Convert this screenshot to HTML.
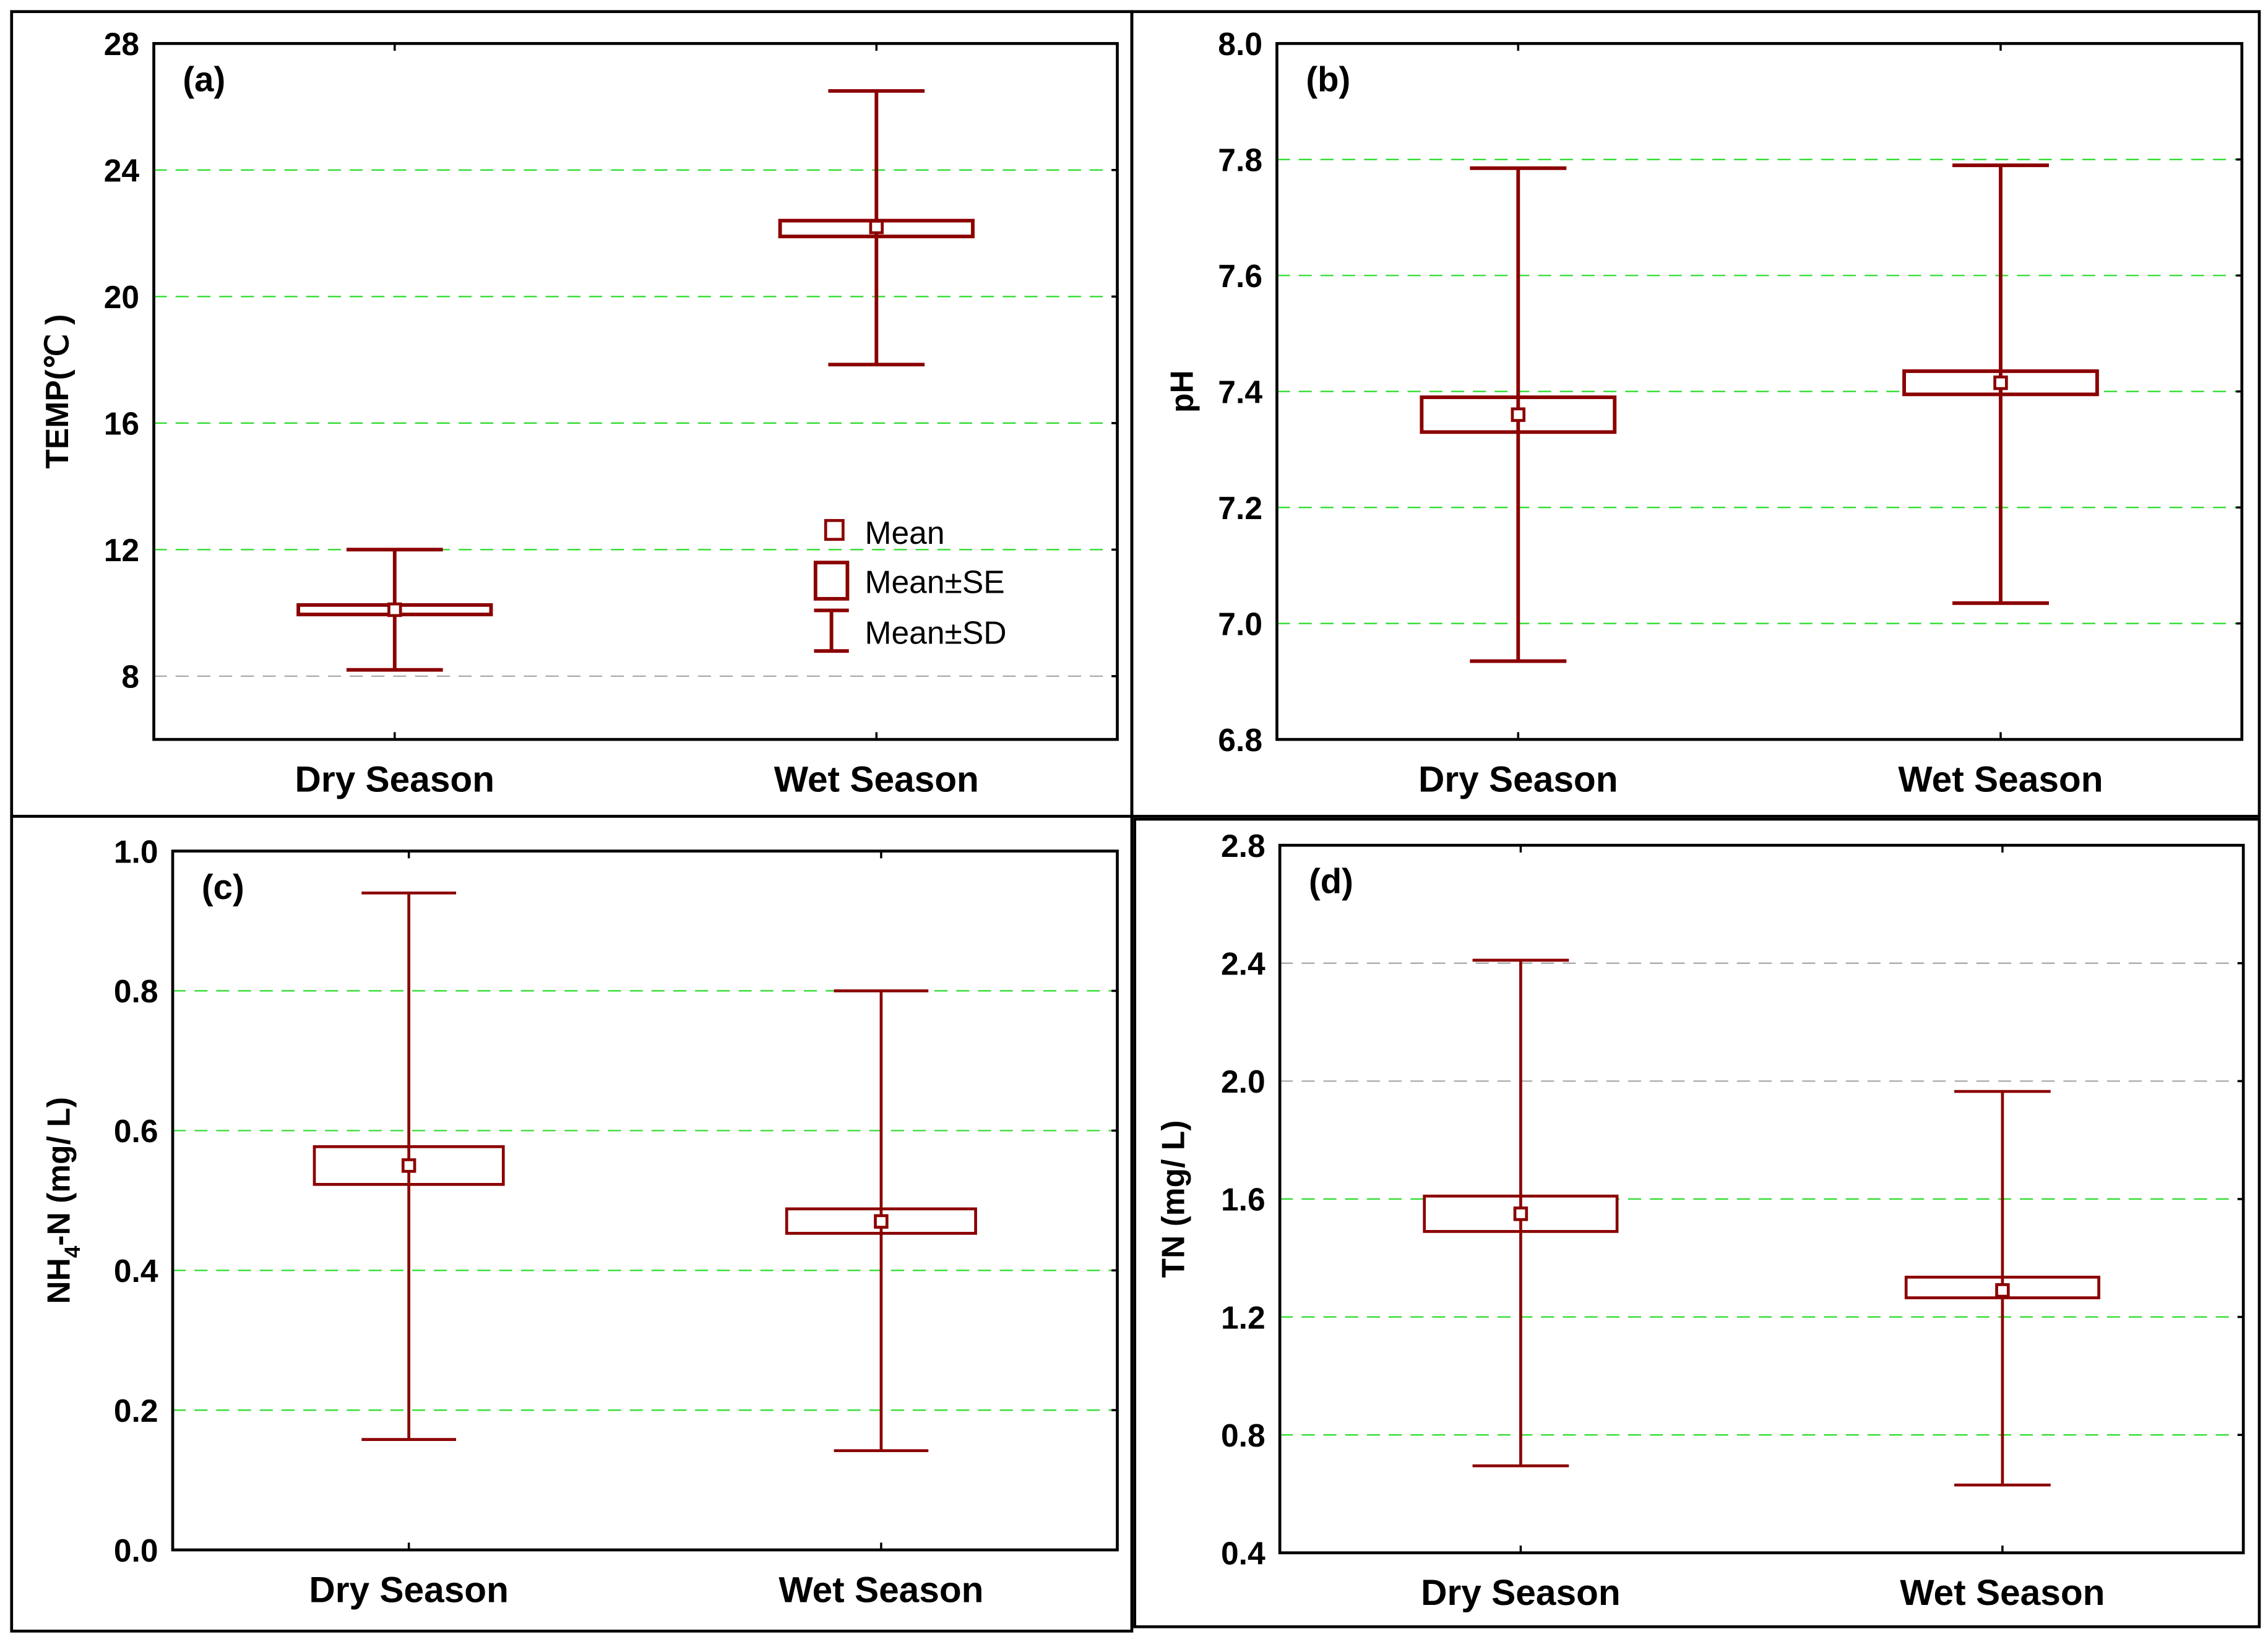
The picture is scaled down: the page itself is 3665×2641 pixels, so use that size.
<!DOCTYPE html>
<html><head><meta charset="utf-8"><style>
html,body{margin:0;padding:0;background:#fff}
svg{display:block}
text{font-family:"Liberation Sans",sans-serif}
</style></head><body>
<svg id="fig" width="3665" height="2641" viewBox="0 0 1563 1127" preserveAspectRatio="none" xmlns="http://www.w3.org/2000/svg"></svg>
<script>
const categories = ["Dry Season", "Wet Season"];
// panel a TEMP
const aMean = [10.1, 22.2], aSeLo = [9.95, 21.9], aSeHi = [10.25, 22.4], aSdLo = [8.2, 17.85], aSdHi = [12.0, 26.5];
const aTicks = [8, 12, 16, 20, 24, 28];
// panel b pH
const bMean = [7.36, 7.415], bSeLo = [7.33, 7.395], bSeHi = [7.39, 7.435], bSdLo = [6.935, 7.035], bSdHi = [7.785, 7.79];
const bTicks = ["6.8", "7.0", "7.2", "7.4", "7.6", "7.8", "8.0"];
// panel c NH4-N
const cMean = [0.55, 0.47], cSeLo = [0.523, 0.453], cSeHi = [0.577, 0.488], cSdLo = [0.158, 0.142], cSdHi = [0.94, 0.80];
const cTicks = ["0.0", "0.2", "0.4", "0.6", "0.8", "1.0"];
// panel d TN
const dMean = [1.55, 1.29], dSeLo = [1.49, 1.265], dSeHi = [1.61, 1.335], dSdLo = [0.695, 0.63], dSdHi = [2.41, 1.965];
const dTicks = ["0.4", "0.8", "1.2", "1.6", "2.0", "2.4", "2.8"];

const NS = "http://www.w3.org/2000/svg";
const svg = document.getElementById("fig");
const RED = "#8b0000";
function mk(tag, attrs, parent) {
  const e = document.createElementNS(NS, tag);
  for (const k in attrs) e.setAttribute(k, attrs[k]);
  (parent || svg).appendChild(e);
  return e;
}
function panel(cfg) {
  const g = mk("g", {});
  
  
  const o = cfg.outer;
  const ob = mk("rect", {x:o[0], y:o[1], width:o[2]-o[0], height:o[3]-o[1], fill:"none", stroke:"#000", "stroke-width":2}, g);
  
  
  const [x0, y0, x1, y1] = cfg.plot;
  const ymin = cfg.ymin, ymax = cfg.ymax;
  const Y = v => y1 - (v - ymin) / (ymax - ymin) * (y1 - y0);
  const W = x1 - x0;
  const X = i => x0 + W * (0.25 + 0.5 * i);
  cfg.ticks.forEach((t, k) => {
    const v = parseFloat(t), y = Y(v);
    if (v > ymin + 1e-9 && v < ymax - 1e-9) {
      const gl = mk("line", {x1:x0, x2:x1, y1:y, y2:y, stroke: cfg.gridColors[k] || "#33dd33", "stroke-width":1, "stroke-dasharray":"9,6"}, g);
      
      
    }
    const tk = mk("line", {x1:x1-4, x2:x1, y1:y, y2:y, stroke:"#000", "stroke-width":1.5}, g);
    
    
    const tl = mk("text", {x:x0-10, y:y+8, "text-anchor":"end", "font-size":22, "font-weight":"bold"}, g);
    tl.textContent = t;
    
    
  });
  const pb = mk("rect", {x:x0, y:y0, width:W, height:y1-y0, fill:"none", stroke:"#000", "stroke-width":2}, g);
  
  
  categories.forEach((c, i) => {
    const x = X(i);
    mk("line", {x1:x, x2:x, y1:y0, y2:y0+5, stroke:"#000", "stroke-width":1.5}, g);
    mk("line", {x1:x, x2:x, y1:y1, y2:y1-5, stroke:"#000", "stroke-width":1.5}, g);
    const cl = mk("text", {x:x, y:y1+36, "text-anchor":"middle", "font-size":25, "font-weight":"bold"}, g);
    cl.textContent = c;
    
    
    const sw = cfg.sw;
    const wh = mk("line", {x1:x, x2:x, y1:Y(cfg.sdHi[i]), y2:Y(cfg.sdLo[i]), stroke:RED, "stroke-width":sw}, g);
    
    
    [cfg.sdHi[i], cfg.sdLo[i]].forEach(v => {
      const cap = mk("line", {x1:x-W*0.05, x2:x+W*0.05, y1:Y(v), y2:Y(v), stroke:RED, "stroke-width":sw}, g);
      
      
    });
    const bx = mk("rect", {x:x-W*0.1, y:Y(cfg.seHi[i]), width:W*0.2, height:Y(cfg.seLo[i])-Y(cfg.seHi[i]), fill:"#fff", stroke:RED, "stroke-width":sw}, g);
    
    
    mk("line", {x1:x, x2:x, y1:Y(cfg.seHi[i]), y2:Y(cfg.seLo[i]), stroke:RED, "stroke-width":sw}, g);
    const mm = mk("rect", {x:x-4, y:Y(cfg.mean[i])-4, width:8, height:8, fill:"#fff", stroke:RED, "stroke-width":2}, g);
    
    
  });
  const pl = mk("text", {x:x0+20, y:y0+33, "font-size":24, "font-weight":"bold"}, g);
  pl.textContent = cfg.label;
  
  
  const yt = mk("text", {x:0, y:0, "text-anchor":"middle", "font-size":22, "font-weight":"bold", transform:`translate(${cfg.titleX},${(y0+y1)/2}) rotate(-90)`}, g);
  
  
  if (cfg.titleHtml) cfg.titleHtml(yt); else yt.textContent = cfg.title;
  return {g, X, Y};
}
panel({name:"panel-a-temp", outer:[8,8,780,563], plot:[106,30,770,510], ymin:6, ymax:28,
  ticks:aTicks.map(String), gridColors:[ "#aaaaaa", "#33dd33", "#33dd33", "#33dd33", "#33dd33", "#33dd33" ],
  mean:aMean, seLo:aSeLo, seHi:aSeHi, sdLo:aSdLo, sdHi:aSdHi, sw:2.5, label:"(a)", title:"TEMP(℃ )", titleX:47});
panel({name:"panel-b-ph", outer:[780,8,1557,563], plot:[880,30,1545,510], ymin:6.8, ymax:8.0,
  ticks:bTicks, gridColors:["", "#33dd33", "#33dd33", "#33dd33", "#33dd33", "#33dd33"],
  mean:bMean, seLo:bSeLo, seHi:bSeHi, sdLo:bSdLo, sdHi:bSdHi, sw:2.5, label:"(b)", title:"pH", titleX:822});
panel({name:"panel-c-nh4n", outer:[8,563,780,1125], plot:[119,587,770,1069], ymin:0, ymax:1.0,
  ticks:cTicks, gridColors:["", "#33dd33", "#33dd33", "#33dd33", "#33dd33"],
  mean:cMean, seLo:cSeLo, seHi:cSeHi, sdLo:cSdLo, sdHi:cSdHi, sw:2, label:"(c)", titleX:48,
  titleHtml: t => { t.appendChild(document.createTextNode("NH")); const s = mk("tspan", {dy:7, "font-size":15}, t); s.textContent = "4"; const r = mk("tspan", {dy:-7}, t); r.textContent = "-N (mg/ L)"; }});
panel({name:"panel-d-tn", outer:[782,565,1557,1122], plot:[882,583,1546,1071], ymin:0.4, ymax:2.8,
  ticks:dTicks, gridColors:["", "#33dd33", "#33dd33", "#33dd33", "#aaaaaa", "#aaaaaa"],
  mean:dMean, seLo:dSeLo, seHi:dSeHi, sdLo:dSdLo, sdHi:dSdHi, sw:2, label:"(d)", title:"TN (mg/ L)", titleX:816});

const lg = mk("g", {});


mk("rect", {x:569, y:359, width:12, height:13, fill:"#fff", stroke:RED, "stroke-width":2}, lg);
mk("rect", {x:562, y:388, width:22, height:25, fill:"#fff", stroke:RED, "stroke-width":2.5}, lg);
mk("line", {x1:573, x2:573, y1:421, y2:449, stroke:RED, "stroke-width":2.5}, lg);
mk("line", {x1:561, x2:585, y1:421, y2:421, stroke:RED, "stroke-width":2.5}, lg);
mk("line", {x1:561, x2:585, y1:449, y2:449, stroke:RED, "stroke-width":2.5}, lg);
[["Mean",375],["Mean±SE",409],["Mean±SD",444]].forEach(([t,y]) => {
  const e = mk("text", {x:596, y:y, "font-size":22}, lg);
  e.textContent = t;
  
  
});
</script>
</body></html>
